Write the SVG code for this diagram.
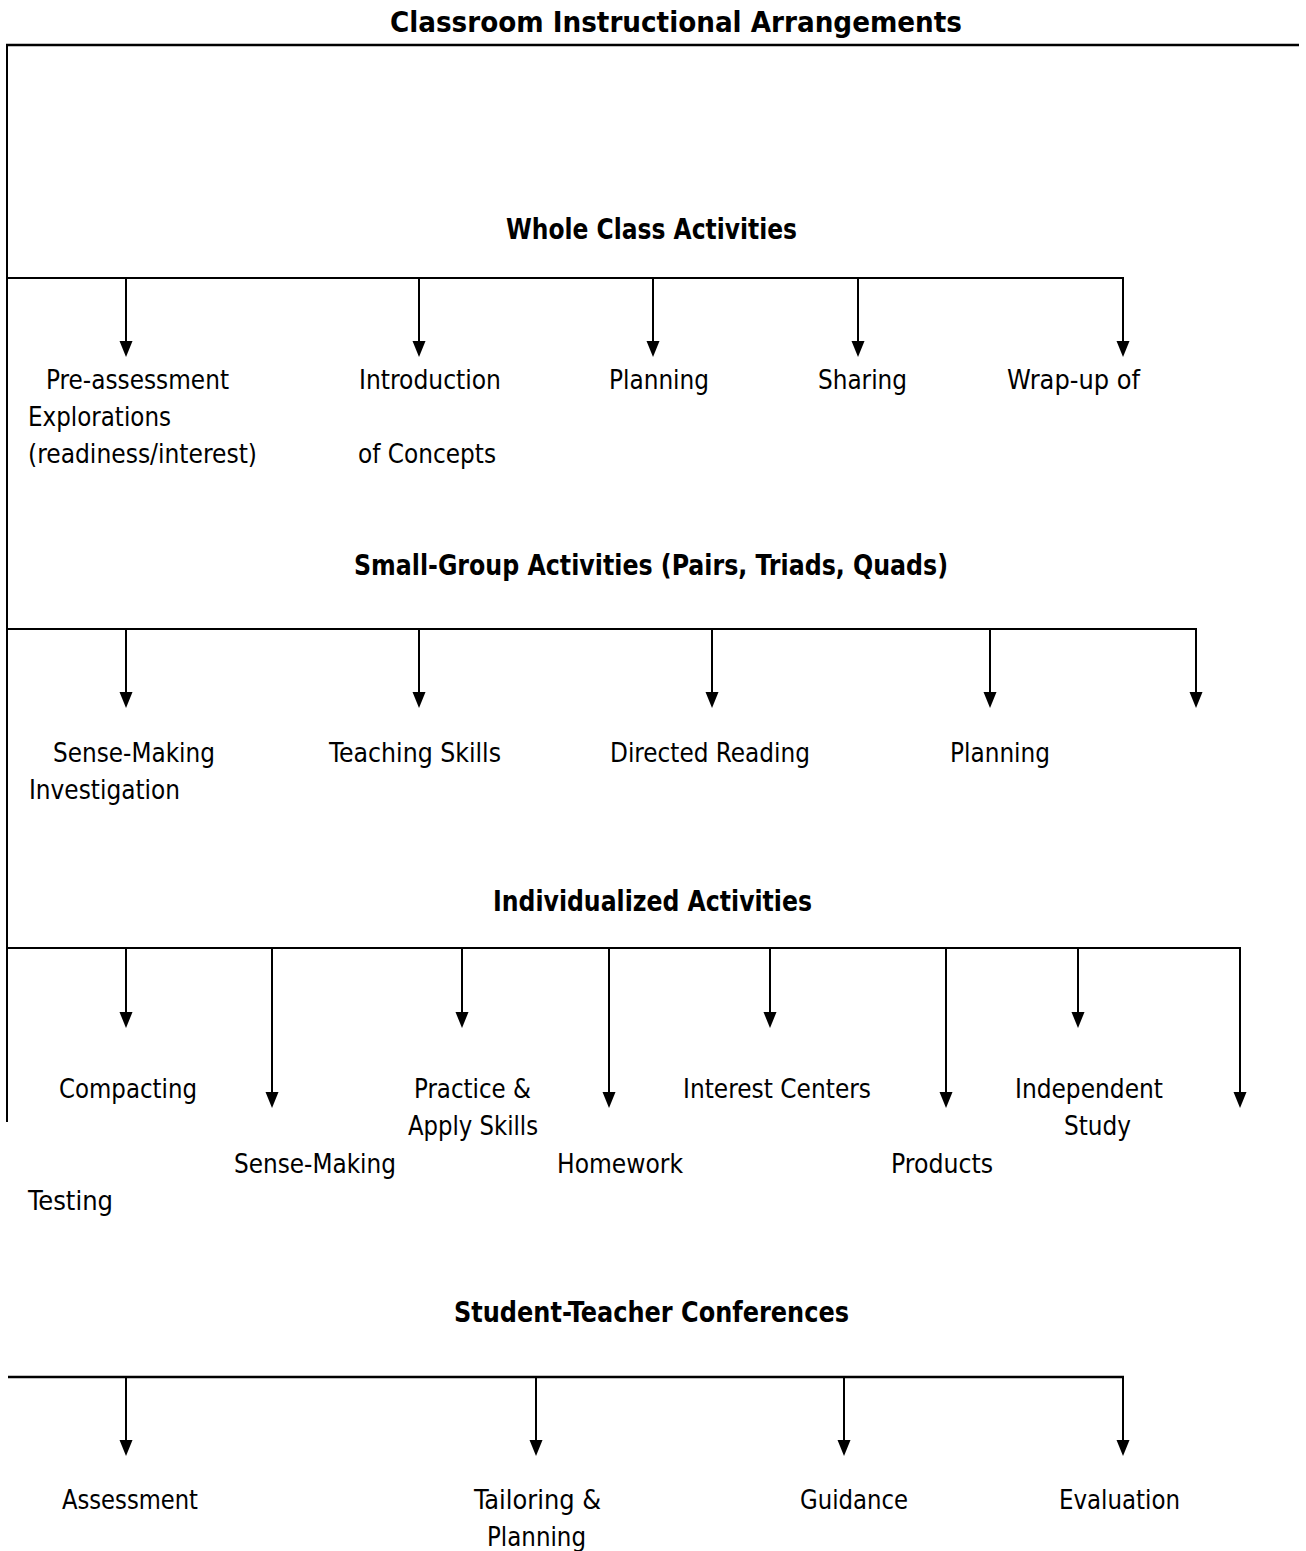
<svg xmlns="http://www.w3.org/2000/svg" width="1306" height="1551" viewBox="0 0 1306 1551">
<style>
text{font-family:"DejaVu Sans Condensed","DejaVu Sans","Liberation Sans",sans-serif;font-stretch:condensed;font-size:26.5px;fill:#000}
.b{font-weight:bold;font-size:27.5px}
.ln{stroke:#000;stroke-width:2;fill:none}
.ar{stroke:#000;stroke-width:2;fill:none;marker-end:url(#ah)}
</style>
<defs>
<marker id="ah" markerUnits="userSpaceOnUse" viewBox="0 0 16 14" markerWidth="16" markerHeight="14" refX="12" refY="7" orient="auto">
<path d="M0,0.5 L16,7 L0,13.5 z" fill="#000"/>
</marker>
</defs>
<rect width="1306" height="1551" fill="#fff"/>
<g id="connectors">
<line class="ln" x1="6" y1="45" x2="1299" y2="45" style="stroke-width:2.5"/>
<line class="ln" x1="7" y1="44" x2="7" y2="1122"/>
<line class="ln" x1="7" y1="278" x2="1124" y2="278"/>
<line class="ar" x1="126" y1="278" x2="126" y2="353"/>
<line class="ar" x1="419" y1="278" x2="419" y2="353"/>
<line class="ar" x1="653" y1="278" x2="653" y2="353"/>
<line class="ar" x1="858" y1="278" x2="858" y2="353"/>
<line class="ar" x1="1123" y1="277" x2="1123" y2="353"/>
<line class="ln" x1="7" y1="629" x2="1197" y2="629"/>
<line class="ar" x1="126" y1="629" x2="126" y2="704"/>
<line class="ar" x1="419" y1="629" x2="419" y2="704"/>
<line class="ar" x1="712" y1="629" x2="712" y2="704"/>
<line class="ar" x1="990" y1="629" x2="990" y2="704"/>
<line class="ar" x1="1196" y1="628" x2="1196" y2="704"/>
<line class="ln" x1="7" y1="948" x2="1241" y2="948"/>
<line class="ar" x1="126" y1="948" x2="126" y2="1024"/>
<line class="ar" x1="272" y1="948" x2="272" y2="1104"/>
<line class="ar" x1="462" y1="948" x2="462" y2="1024"/>
<line class="ar" x1="609" y1="948" x2="609" y2="1104"/>
<line class="ar" x1="770" y1="948" x2="770" y2="1024"/>
<line class="ar" x1="946" y1="948" x2="946" y2="1104"/>
<line class="ar" x1="1078" y1="948" x2="1078" y2="1024"/>
<line class="ar" x1="1240" y1="947" x2="1240" y2="1104"/>
<line class="ln" x1="8" y1="1377" x2="1124" y2="1377" style="stroke-width:2.5"/>
<line class="ar" x1="126" y1="1377" x2="126" y2="1452"/>
<line class="ar" x1="536" y1="1377" x2="536" y2="1452"/>
<line class="ar" x1="844" y1="1377" x2="844" y2="1452"/>
<line class="ar" x1="1123" y1="1376" x2="1123" y2="1452"/>
</g>
<g id="title"><text class="b" x="390" y="32" textLength="572" lengthAdjust="spacingAndGlyphs">Classroom Instructional Arrangements</text></g>
<g id="whole-class"><text class="b" x="506" y="239" textLength="291" lengthAdjust="spacingAndGlyphs">Whole Class Activities</text></g>
<g id="pre-assessment">
<text x="46" y="389" textLength="183" lengthAdjust="spacingAndGlyphs">Pre-assessment</text>
<text x="28" y="426" textLength="143" lengthAdjust="spacingAndGlyphs">Explorations</text>
<text x="28" y="463" textLength="229" lengthAdjust="spacingAndGlyphs">(readiness/interest)</text>
</g>
<g id="introduction">
<text x="359" y="389" textLength="142" lengthAdjust="spacingAndGlyphs">Introduction</text>
<text x="358" y="463" textLength="138" lengthAdjust="spacingAndGlyphs">of Concepts</text>
</g>
<g id="planning-1"><text x="609" y="389" textLength="100" lengthAdjust="spacingAndGlyphs">Planning</text></g>
<g id="sharing"><text x="818" y="389" textLength="89" lengthAdjust="spacingAndGlyphs">Sharing</text></g>
<g id="wrap-up"><text x="1007" y="389" textLength="133" lengthAdjust="spacingAndGlyphs">Wrap-up of</text></g>
<g id="small-group"><text class="b" x="354" y="575" textLength="594" lengthAdjust="spacingAndGlyphs">Small-Group Activities (Pairs, Triads, Quads)</text></g>
<g id="sense-making-investigation">
<text x="53" y="762" textLength="162" lengthAdjust="spacingAndGlyphs">Sense-Making</text>
<text x="29" y="799" textLength="151" lengthAdjust="spacingAndGlyphs">Investigation</text>
</g>
<g id="teaching-skills"><text x="329" y="762" textLength="172" lengthAdjust="spacingAndGlyphs">Teaching Skills</text></g>
<g id="directed-reading"><text x="610" y="762" textLength="200" lengthAdjust="spacingAndGlyphs">Directed Reading</text></g>
<g id="planning-2"><text x="950" y="762" textLength="100" lengthAdjust="spacingAndGlyphs">Planning</text></g>
<g id="individualized"><text class="b" x="493" y="911" textLength="319" lengthAdjust="spacingAndGlyphs">Individualized Activities</text></g>
<g id="compacting"><text x="59" y="1098" textLength="138" lengthAdjust="spacingAndGlyphs">Compacting</text></g>
<g id="practice">
<text x="414" y="1098" textLength="117" lengthAdjust="spacingAndGlyphs">Practice &amp;</text>
<text x="408" y="1135" textLength="130" lengthAdjust="spacingAndGlyphs">Apply Skills</text>
</g>
<g id="interest-centers"><text x="683" y="1098" textLength="188" lengthAdjust="spacingAndGlyphs">Interest Centers</text></g>
<g id="independent-study">
<text x="1015" y="1098" textLength="148" lengthAdjust="spacingAndGlyphs">Independent</text>
<text x="1064" y="1135" textLength="67" lengthAdjust="spacingAndGlyphs">Study</text>
</g>
<g id="sense-making"><text x="234" y="1173" textLength="162" lengthAdjust="spacingAndGlyphs">Sense-Making</text></g>
<g id="homework"><text x="557" y="1173" textLength="126" lengthAdjust="spacingAndGlyphs">Homework</text></g>
<g id="products"><text x="891" y="1173" textLength="102" lengthAdjust="spacingAndGlyphs">Products</text></g>
<g id="testing"><text x="28" y="1210" textLength="85" lengthAdjust="spacingAndGlyphs">Testing</text></g>
<g id="conferences"><text class="b" x="454" y="1322" textLength="395" lengthAdjust="spacingAndGlyphs">Student-Teacher Conferences</text></g>
<g id="assessment"><text x="62" y="1509" textLength="136" lengthAdjust="spacingAndGlyphs">Assessment</text></g>
<g id="tailoring">
<text x="474" y="1509" textLength="127" lengthAdjust="spacingAndGlyphs">Tailoring &amp;</text>
<text x="487" y="1546" textLength="99" lengthAdjust="spacingAndGlyphs">Planning</text>
</g>
<g id="guidance"><text x="800" y="1509" textLength="108" lengthAdjust="spacingAndGlyphs">Guidance</text></g>
<g id="evaluation"><text x="1059" y="1509" textLength="121" lengthAdjust="spacingAndGlyphs">Evaluation</text></g>
</svg>
